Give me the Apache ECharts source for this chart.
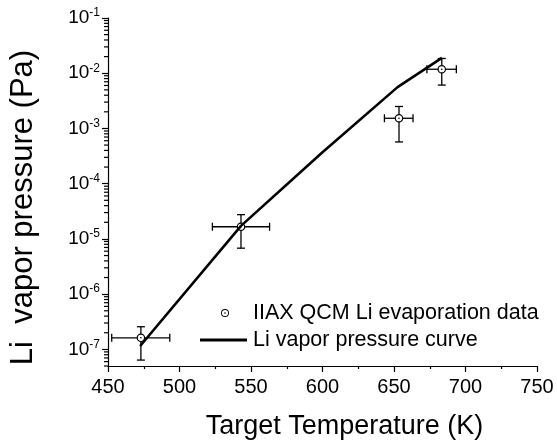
<!DOCTYPE html>
<html><head><meta charset="utf-8">
<script src="https://cdn.jsdelivr.net/npm/echarts@6/dist/echarts.min.js"></script>
<style>html,body{margin:0;padding:0;background:#fff}#c{width:557px;height:446px}</style>
</head><body><div id="c"></div>
<script>
// Measured data (IIAX QCM)
const tempK        = [473, 543, 653.5, 683.4];
const pressurePa   = [1.62e-7, 1.66e-5, 1.53e-3, 1.18e-2];
const tempErrLow   = [452.6, 523, 643.3, 673];
const tempErrHigh  = [493.2, 563, 663.3, 693.6];
const pressErrLow  = [6.4e-8, 6.8e-6, 5.7e-4, 6.1e-3];
const pressErrHigh = [2.57e-7, 2.75e-5, 2.5e-3, 1.85e-2];
// Vapor pressure curve
const curveTempK = [472.5, 543, 600, 652.5, 683.5];
const curvePa    = [1.15e-7, 1.72e-5, 3.7e-4, 5.6e-3, 1.9e-2];
// Axis ticks
const yMajor = [1e-7, 1e-6, 1e-5, 1e-4, 1e-3, 1e-2, 1e-1];
const yMinorMultipliers = [2, 3, 4, 5, 6, 7, 8, 9];

const yMinor = [];
[1e-8, 1e-7, 1e-6, 1e-5, 1e-4, 1e-3, 1e-2].forEach(d => {
  yMinorMultipliers.forEach(m => { const v = m * d; if (v >= 5e-8 - 1e-12 && v <= 0.1) yMinor.push(v); });
});

const FONT = '"Liberation Sans", Arial, sans-serif';
const X_MIN = 450, X_MAX = 750, Y_MIN = 5e-8, Y_MAX = 0.1;
const chart = echarts.init(document.getElementById('c'), null, {renderer: 'canvas'});

const errData = tempK.map((t, i) => [t, pressurePa[i], tempErrLow[i], tempErrHigh[i], pressErrLow[i], pressErrHigh[i]]);

function renderErr(params, api) {
  const c = api.coord([api.value(0), api.value(1)]);
  const xl = api.coord([api.value(2), api.value(1)]);
  const xh = api.coord([api.value(3), api.value(1)]);
  const yl = api.coord([api.value(0), api.value(4)]);
  const yh = api.coord([api.value(0), api.value(5)]);
  const cap = 4;
  const st = {stroke: '#000', lineWidth: 1.3, fill: null};
  const ln = (x1, y1, x2, y2) => ({type: 'line', shape: {x1, y1, x2, y2}, style: st});
  return {
    type: 'group',
    children: [
      ln(xl[0], c[1], xh[0], c[1]),
      ln(xl[0], c[1] - cap, xl[0], c[1] + cap),
      ln(xh[0], c[1] - cap, xh[0], c[1] + cap),
      ln(c[0], yl[1], c[0], yh[1]),
      ln(c[0] - cap, yl[1], c[0] + cap, yl[1]),
      ln(c[0] - cap, yh[1], c[0] + cap, yh[1]),
      {type: 'circle', shape: {cx: c[0], cy: c[1], r: 3.7}, style: {fill: '#fff', stroke: '#000', lineWidth: 1.2}},
      {type: 'circle', shape: {cx: c[0], cy: c[1], r: 0.8}, style: {fill: '#000'}}
    ]
  };
}

// minor log ticks on the y axis, positioned through the axis scale
function renderMinorTick(params, api) {
  const p = api.coord([api.value(0), api.value(1)]);
  return {type: 'line', shape: {x1: p[0] - 4, y1: p[1], x2: p[0], y2: p[1]},
          style: {stroke: '#000', lineWidth: 1.2}};
}

const supLabel = v => '{b|10}{s|' + Math.round(Math.log10(v)) + '}';

const ringDotIcon = 'path://M4,0A4,4,0,1,1,3.99,0ZM4,0.9A3.1,3.1,0,1,0,4.01,0.9ZM4,3.2A0.8,0.8,0,1,1,3.99,3.2Z';

chart.setOption({
  animation: false,
  backgroundColor: '#fff',
  grid: {left: 107, right: 20, top: 18, bottom: 80, containLabel: false},
  xAxis: {
    type: 'value', min: X_MIN, max: X_MAX, interval: 50,
    name: 'Target Temperature (K)', nameLocation: 'middle', nameGap: 47,
    nameTextStyle: {fontFamily: FONT, fontSize: 27, color: '#000', padding: [0, 0, 0, 44]},
    axisLine: {show: true, lineStyle: {color: '#000', width: 1.2}},
    axisTick: {show: true, length: 6, inside: false, lineStyle: {color: '#000', width: 1.2}},
    minorTick: {show: true, splitNumber: 2, length: 3, lineStyle: {color: '#000', width: 1.2}},
    axisLabel: {fontFamily: FONT, fontSize: 20, color: '#000', margin: 11},
    splitLine: {show: false}
  },
  yAxis: {
    type: 'log', logBase: 10, min: Y_MIN, max: Y_MAX, position: 'left',
    name: 'Li  vapor pressure (Pa)', nameLocation: 'middle', nameGap: 69, nameRotate: 90,
    nameTextStyle: {fontFamily: FONT, fontSize: 31, color: '#000', padding: [0, 31, 0, 0]},
    axisLine: {show: true, lineStyle: {color: '#000', width: 1.2}},
    axisTick: {show: true, length: 6, customValues: yMajor, lineStyle: {color: '#000', width: 1.2}},
    axisLabel: {
      customValues: yMajor, margin: 8, formatter: supLabel,
      rich: {
        b: {fontFamily: FONT, fontSize: 19, color: '#000'},
        s: {fontFamily: FONT, fontSize: 12, color: '#000', padding: [0, 0, 10, 0]}
      }
    },
    splitLine: {show: false}
  },
  legend: [{
    data: [{name: 'IIAX QCM Li evaporation data', icon: ringDotIcon, itemStyle: {color: '#000'}}],
    left: 221, top: 302, padding: 0, itemWidth: 8, itemHeight: 8, itemGap: 0,
    textStyle: {fontFamily: FONT, fontSize: 21.5, color: '#000', padding: [0, 0, 0, 19]}
  }, {
    data: [{name: 'Li vapor pressure curve', icon: 'rect', itemStyle: {color: '#000'}}],
    left: 200, top: 329, padding: 0, itemWidth: 47, itemHeight: 3, itemGap: 0,
    symbolKeepAspect: false,
    textStyle: {fontFamily: FONT, fontSize: 21.5, color: '#000', padding: [0, 0, 0, 1]}
  }],
  series: [{
    name: 'IIAX QCM Li evaporation data', type: 'custom',
    renderItem: renderErr, data: errData, z: 3,
    itemStyle: {color: '#000'}
  }, {
    name: 'Li vapor pressure curve', type: 'line',
    data: curveTempK.map((t, i) => [t, curvePa[i]]),
    showSymbol: false, symbol: 'none', z: 4,
    lineStyle: {color: '#000', width: 2.6}, itemStyle: {color: '#000'}
  }, {
    name: '_yMinorTicks', type: 'custom', renderItem: renderMinorTick,
    data: yMinor.map(v => [X_MIN, v]), clip: false, silent: true, z: 5
  }]
});
</script></body></html>
